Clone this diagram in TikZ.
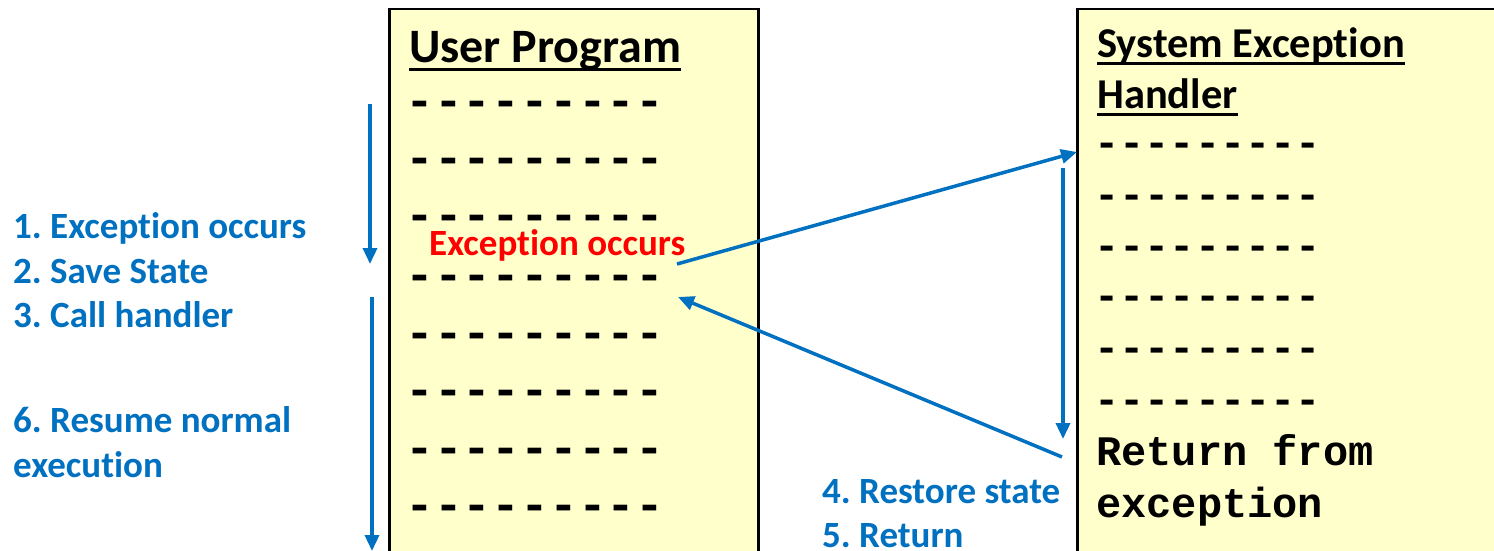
\documentclass[tikz,border=0pt]{standalone}
\usepackage{fontspec}
\setmainfont{Carlito}[Ligatures=NoCommon]
\newfontfamily\codefont{Liberation Mono}
\usetikzlibrary{arrows.meta,positioning}
\definecolor{notepad}{HTML}{FFFFCC}
\definecolor{stepblue}{HTML}{0070C0}
\definecolor{alertred}{HTML}{FF0000}
\tikzset{
  listing/.style={draw=black,fill=notepad,line width=2.5pt,
                  anchor=north west,minimum height=620pt,inner sep=0pt},
  heading/.style={anchor=base west,inner sep=0pt,font=\bfseries},
  steptext/.style={anchor=base west,inner sep=0pt,text=stepblue,
                   font=\fontsize{37}{40}\selectfont\bfseries},
  codeline/.style={anchor=base west,inner sep=0pt,font=\codefont\bfseries},
  headrule/.style={line width=3pt},
  flowarr/.style={-{Triangle[length=16pt,width=14pt]},line width=3.5pt,color=stepblue}
}
\frenchspacing

\begin{document}
\begin{tikzpicture}[x=1pt,y=-1pt]
  \useasboundingbox (0,0) rectangle (1494,551);
  \clip (0,0) rectangle (1494,551);
  \node[listing,minimum width=369pt] (userbox) at (388,8) {};
  \node[listing,minimum width=500pt] (handlerbox) at (1076,8) {};
  % user program
  \node[heading,font=\fontsize{48}{50}\selectfont\bfseries] (usertitle) at (409,63) {User Program};
  \draw[headrule] ([yshift=-7pt]usertitle.base west) -- ([yshift=-7pt]usertitle.base east);
  \foreach \i/\yy in {1/103,2/160,3/217,4/277,5/335,6/392,7/450,8/507} {
    \node[codeline,font=\fontsize{48}{50}\selectfont\codefont\bfseries] (urow\i) at (405,\yy+13) {---------};
  }
  \node[heading,text=alertred,font=\fontsize{37}{40}\selectfont\bfseries] (exc) at (429,255) {Exception occurs};
  % handler
  \node[heading,font=\fontsize{42.5}{50}\selectfont\bfseries] (handtitle) at (1097,58) {System Exception};
  \node[heading,font=\fontsize{42.5}{50}\selectfont\bfseries] (handtitle2) at (1097,108) {Handler};
  \draw[headrule] ([yshift=-6pt]handtitle.base west) -- ([yshift=-6pt]handtitle.base east);
  \draw[headrule] ([yshift=-6pt]handtitle2.base west) -- ([yshift=-6pt]handtitle2.base east);
  \foreach \i/\yy in {1/145,2/197,3/248,4/298,5/350,6/402} {
    \node[codeline,font=\fontsize{42}{50}\selectfont\codefont\bfseries] (hrow\i) at (1094,\yy+11) {---------};
  }
  \node[codeline,font=\fontsize{42}{50}\selectfont\codefont\bfseries] (ret1) at (1096,465) {Return from};
  \node[codeline,font=\fontsize{42}{50}\selectfont\codefont\bfseries] (ret2) at (1096,517) {exception};
  % steps
  \node[steptext] (s1) at (13,238) {1. Exception occurs};
  \node[steptext] (s2) at (13,283) {2. Save State};
  \node[steptext] (s3) at (13,327) {3. Call handler};
  \node[steptext] (s6) at (13,432) {6. Resume normal};
  \node[steptext] (s6b) at (13,477) {execution};
  \node[steptext] (s4) at (822,503) {4. Restore state};
  \node[steptext] (s5) at (822,547) {5. Return};
  % arrows
  \coordinate (runtop) at (370,104);
  \coordinate (runstop) at (370,264);
  \coordinate (resumetop) at (372,297);
  \coordinate (resumeend) at (372,551);
  \coordinate (callfrom) at (677,264);
  \coordinate (callto) at (1077,152);
  \coordinate (handtop) at (1063,168);
  \coordinate (handend) at (1063,439);
  \coordinate (retfrom) at (1062,457);
  \coordinate (retto) at (678,297);
  \draw[flowarr] (runtop) -- (runstop);
  \draw[flowarr] (resumetop) -- (resumeend);
  \draw[flowarr] (callfrom) -- (callto);
  \draw[flowarr] (handtop) -- (handend);
  \draw[flowarr] (retfrom) -- (retto);
\end{tikzpicture}
\end{document}
